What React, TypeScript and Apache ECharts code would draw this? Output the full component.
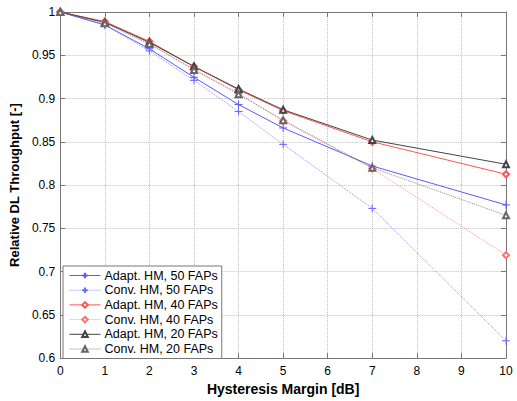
import React, { useEffect, useRef } from "react";
import * as echarts from "echarts";

const xValues = [0, 1, 2, 3, 4, 5, 7, 10];
const adapt50 = [1.0, 0.985, 0.9575, 0.9245, 0.893, 0.866, 0.822, 0.777];
const conv50 = [1.0, 0.985, 0.955, 0.921, 0.885, 0.847, 0.773, 0.62];
const adapt40 = [1.0, 0.989, 0.966, 0.937, 0.91, 0.886, 0.85, 0.8125];
const conv40 = [1.0, 0.988, 0.964, 0.934, 0.906, 0.874, 0.819, 0.719];
const adapt20 = [1.0, 0.988, 0.965, 0.937, 0.911, 0.887, 0.852, 0.824];
const conv20 = [1.0, 0.987, 0.963, 0.933, 0.905, 0.875, 0.82, 0.765];

const names = [
  "Adapt. HM, 50 FAPs",
  "Conv. HM, 50 FAPs",
  "Adapt. HM, 40 FAPs",
  "Conv. HM, 40 FAPs",
  "Adapt. HM, 20 FAPs",
  "Conv. HM, 20 FAPs",
];

const PLUS = "path://M0,5L10,5M5,0L5,10";

export default function App() {
  const ref = useRef<HTMLDivElement>(null);
  useEffect(() => {
    if (!ref.current) return;
    const chart = echarts.init(ref.current, undefined, { renderer: "svg" });
    const font = "'Liberation Sans', Arial, sans-serif";
    const mk = (
      name: string,
      vals: number[],
      color: string,
      dotted: boolean,
      symbol: string,
      size: number
    ) => ({
      name,
      type: "line",
      data: xValues.map((x, i) => [x, vals[i]]),
      symbol,
      symbolSize: size,
      showSymbol: true,
      lineStyle: { color, width: 1, type: dotted ? "dotted" : "solid", opacity: dotted ? 0.75 : 1 },
      itemStyle: {
        color: symbol === PLUS ? "none" : color,
        borderColor: color,
        borderWidth: 1,
      },
      emphasis: { disabled: true },
      z: 3,
    });
    const gridLine = { show: true, lineStyle: { color: "#c0c0c0", type: "dotted", width: 1 } };
    const axisLine = { show: true, onZero: false, lineStyle: { color: "#777", width: 1 } };
    const tick = { show: true, inside: true, length: 5, lineStyle: { color: "#777" } };
    chart.setOption({
      animation: false,
      textStyle: { fontFamily: font },
      grid: { left: 59, right: 11, top: 12, bottom: 38, containLabel: false },
      legend: {
        orient: "vertical",
        left: 63,
        top: 266,
        width: 154,
        padding: [3, 4, 3, 6],
        itemGap: 1.7,
        itemWidth: 31,
        itemHeight: 7,
        backgroundColor: "#fff",
        borderColor: "#777",
        borderWidth: 1,
        borderRadius: 0,
        data: names,
        lineStyle: { width: 1 },
        textStyle: { fontFamily: font, fontSize: 12.5, color: "#000", padding: [0, 0, 0, -1] },
        selectedMode: false,
      },
      xAxis: [
        {
          type: "value",
          min: 0,
          max: 10,
          interval: 1,
          name: "Hysteresis Margin [dB]",
          nameLocation: "middle",
          nameGap: 20,
          nameTextStyle: { fontFamily: font, fontSize: 14, fontWeight: "bold", color: "#000" },
          axisLine,
          axisTick: tick,
          axisLabel: { fontFamily: font, fontSize: 12, color: "#000", margin: 7 },
          splitLine: gridLine,
        },
        {
          type: "value",
          position: "top",
          min: 0,
          max: 10,
          interval: 1,
          axisLine,
          axisTick: tick,
          axisLabel: { show: false },
          splitLine: { show: false },
        },
      ],
      yAxis: [
        {
          type: "value",
          min: 0.6,
          max: 1,
          interval: 0.05,
          name: "Relative DL Throughput [-]",
          nameLocation: "middle",
          nameGap: 30,
          nameTextStyle: { fontFamily: font, fontSize: 13, fontWeight: "bold", color: "#000" },
          axisLine,
          axisTick: tick,
          axisLabel: {
            fontFamily: font,
            fontSize: 12,
            color: "#000",
            margin: 5,
            formatter: (v: number) => String(Math.round(v * 100) / 100),
          },
          splitLine: gridLine,
        },
        {
          type: "value",
          position: "right",
          min: 0.6,
          max: 1,
          interval: 0.05,
          axisLine,
          axisTick: tick,
          axisLabel: { show: false },
          splitLine: { show: false },
        },
      ],
      series: [
        mk(names[0], adapt50, "#5a5aff", false, PLUS, 8),
        mk(names[1], conv50, "#6a6aff", true, PLUS, 8),
        mk(names[2], adapt40, "#ff5555", false, "emptyDiamond", 6),
        mk(names[3], conv40, "#ff7070", true, "emptyDiamond", 6),
        mk(names[4], adapt20, "#444444", false, "emptyTriangle", 6),
        mk(names[5], conv20, "#666666", true, "emptyTriangle", 6),
      ],
    });
    return () => chart.dispose();
  }, []);
  return <div ref={ref} style={{ width: 517, height: 401, position: "absolute", left: 0, top: 0 }} />;
}
